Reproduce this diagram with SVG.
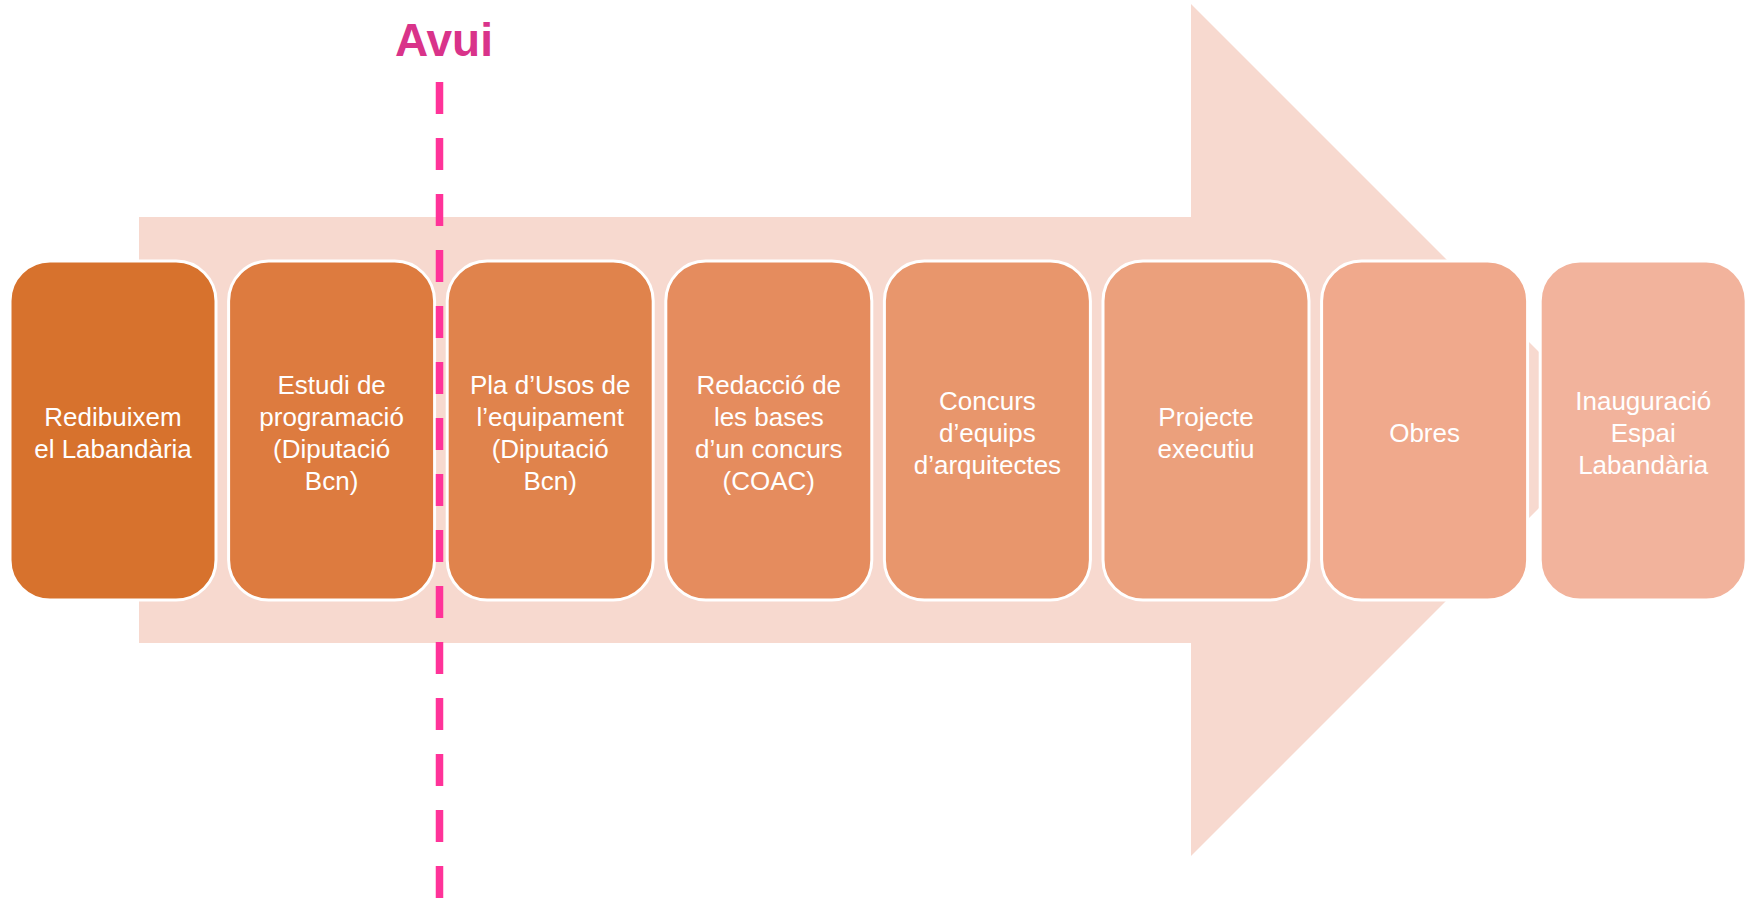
<svg xmlns="http://www.w3.org/2000/svg" width="1750" height="900" viewBox="0 0 1750 900">
<style>
.box{stroke:#FFFFFF;stroke-width:3}
.t{font-family:"Liberation Sans",Arial,sans-serif;font-size:26px;fill:#FFFFFF;text-anchor:middle}
.avui{font-family:"Liberation Sans",Arial,sans-serif;font-size:46px;font-weight:bold;fill:#D9338A;text-anchor:middle}
</style>
<rect width="1750" height="900" fill="#FFFFFF"/>
<g id="arrow">
<polygon points="139,217 1191,217 1191,4 1617,430 1191,856 1191,643 139,643" fill="#F7D9CF"/>
</g>
<g id="n1"><rect class="box" x="10" y="261" width="206" height="339" rx="40" fill="#D7722D"/>
<text class="t" x="113" y="426">Redibuixem</text><text class="t" x="113" y="458">el Labandària</text></g>
<g id="n2"><rect class="box" x="228.6" y="261" width="206" height="339" rx="40" fill="#DD7B3F"/>
<text class="t" x="331.6" y="394">Estudi de</text><text class="t" x="331.6" y="426">programació</text><text class="t" x="331.6" y="458">(Diputació</text><text class="t" x="331.6" y="490">Bcn)</text></g>
<g id="n3"><rect class="box" x="447.2" y="261" width="206" height="339" rx="40" fill="#E0834C"/>
<text class="t" x="550.2" y="394">Pla d’Usos de</text><text class="t" x="550.2" y="426">l’equipament</text><text class="t" x="550.2" y="458">(Diputació</text><text class="t" x="550.2" y="490">Bcn)</text></g>
<g id="n4"><rect class="box" x="665.8" y="261" width="206" height="339" rx="40" fill="#E58C5E"/>
<text class="t" x="768.8" y="394">Redacció de</text><text class="t" x="768.8" y="426">les bases</text><text class="t" x="768.8" y="458">d’un concurs</text><text class="t" x="768.8" y="490">(COAC)</text></g>
<g id="n5"><rect class="box" x="884.4" y="261" width="206" height="339" rx="40" fill="#E8966C"/>
<text class="t" x="987.4" y="410">Concurs</text><text class="t" x="987.4" y="442">d’equips</text><text class="t" x="987.4" y="474">d’arquitectes</text></g>
<g id="n6"><rect class="box" x="1103" y="261" width="206" height="339" rx="40" fill="#EBA07C"/>
<text class="t" x="1206" y="426">Projecte</text><text class="t" x="1206" y="458">executiu</text></g>
<g id="n7"><rect class="box" x="1321.6" y="261" width="206" height="339" rx="40" fill="#F0A98C"/>
<text class="t" x="1424.6" y="442">Obres</text></g>
<g id="n8"><rect class="box" x="1540.2" y="261" width="206" height="339" rx="40" fill="#F2B39C"/>
<text class="t" x="1643.2" y="410">Inauguració</text><text class="t" x="1643.2" y="442">Espai</text><text class="t" x="1643.2" y="474">Labandària</text></g>
<g id="connectors">
<line x1="439.5" y1="82" x2="439.5" y2="900" stroke="#FF3399" stroke-width="7.5" stroke-dasharray="32 24"/>
</g>
<g id="today"><text class="avui" x="444" y="56">Avui</text></g>
</svg>
